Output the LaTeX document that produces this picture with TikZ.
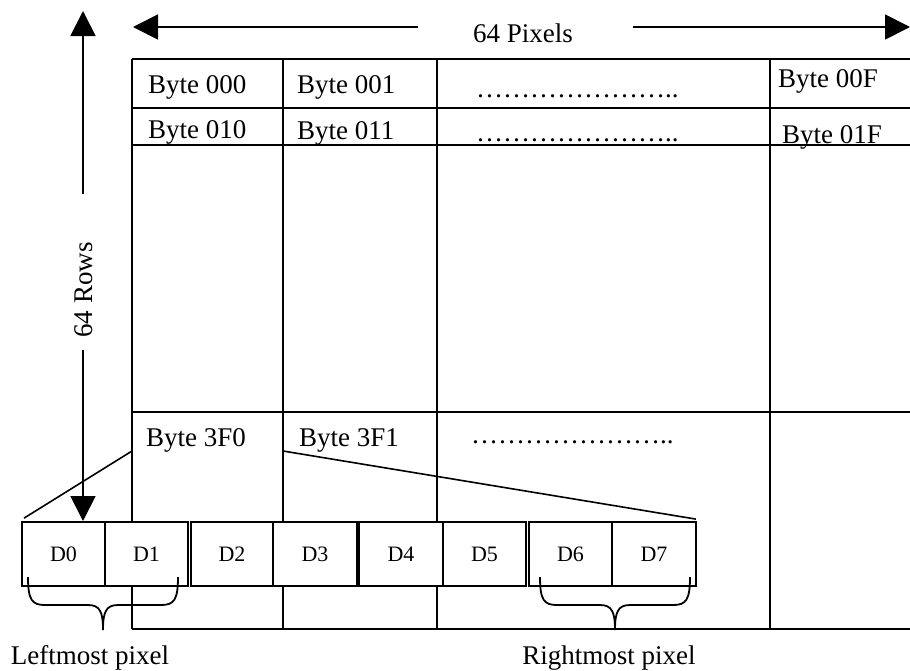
\documentclass[tikz,border=0pt]{standalone}
\usepackage{fontspec}
\setmainfont{Liberation Serif}
\usetikzlibrary{arrows.meta}
\newcommand{\el}{\char"2026\relax}
\newcommand{\dotrow}{\el\el\el\el\el\el\el..}
\begin{document}
\begin{tikzpicture}[x=1pt,y=-1pt,
  grid/.style={line width=1.8pt},
  lbl/.style={font=\fontsize{27}{31}\selectfont, inner sep=0pt, anchor=base west},
  dbox/.style={draw, line width=1.8pt, fill=white, minimum width=83pt, minimum height=64pt, inner sep=0pt, font=\fontsize{22}{26}\selectfont},
  bigarrow/.style={line width=1.8pt, -{Triangle[width=25pt,length=25pt]}},
  link/.style={line width=1.6pt},
  bracepath/.style={line width=1.8pt}]
\useasboundingbox (0,0) rectangle (910,670);
% grid
\draw[grid] (132,59) -- (912,59);
\draw[grid] (132,108) -- (912,108);
\draw[grid] (132,145) -- (912,145);
\draw[grid] (132,412) -- (912,412);
\draw[grid] (132,629) -- (912,629);
\draw[grid] (132,59) -- (132,629);
\draw[grid] (283,59) -- (283,629);
\draw[grid] (437,59) -- (437,629);
\draw[grid] (770,59) -- (770,629);
% cell texts
\node[lbl] (b000) at (148,93) {Byte 000};
\node[lbl] (b001) at (297,93) {Byte 001};
\node[lbl] (d1) at (476,97) {\dotrow};
\node[lbl] (b00F) at (778,87) {Byte 00F};
\node[lbl] (b010) at (148,138) {Byte 010};
\node[lbl] (b011) at (297,139) {Byte 011};
\node[lbl] (d2) at (476,141) {\dotrow};
\node[lbl] (b01F) at (782,143) {Byte 01F};
\node[lbl] (b3F0) at (146,446) {Byte 3F0};
\node[lbl] (b3F1) at (299,446) {Byte 3F1};
\node[lbl] (d3) at (471,443) {\dotrow};
% arrows
\node[font=\fontsize{27}{31}\selectfont, inner sep=0pt, anchor=base] (pix) at (523,42) {64 Pixels};
\coordinate (hl1) at (418,27);
\coordinate (hl2) at (133,27);
\coordinate (hr1) at (633,27);
\coordinate (hr2) at (910,27);
\draw[bigarrow] (hl1) -- (hl2);
\draw[bigarrow] (hr1) -- (hr2);
\node[font=\fontsize{27}{31}\selectfont, inner sep=0pt, rotate=90] (rows) at (84,290) {64 Rows};
\coordinate (vu1) at (83,194);
\coordinate (vu2) at (83,11);
\coordinate (vd1) at (83,350);
\coordinate (vd2) at (83,521);
% D boxes
\node[dbox, minimum width=83pt] (D0) at (63.5,554) {D0};
\node[dbox, minimum width=83pt] (D1) at (146.5,554) {D1};
\node[dbox, minimum width=82pt] (D2) at (232,554) {D2};
\node[dbox, minimum width=84pt] (D3) at (315,554) {D3};
\node[dbox, minimum width=84pt] (D4) at (401,554) {D4};
\node[dbox, minimum width=83pt] (D5) at (484.5,554) {D5};
\node[dbox, minimum width=83pt] (D6) at (570.5,554) {D6};
\node[dbox, minimum width=84pt] (D7) at (654,554) {D7};
\draw[bigarrow] (vu1) -- (vu2);
\draw[bigarrow] (vd1) -- (vd2);
% links
\coordinate (c3F0) at (132,451);
\coordinate (c3F1) at (283,451);
\draw[link] (c3F0) -- ([xshift=3pt,yshift=3pt]D0.north west);
\draw[link] (c3F1) -- ([xshift=-1pt,yshift=2pt]D7.north east);
% braces
\draw[bracepath] (28,577) .. controls (28,600) and (32,605) .. (45,605) -- (88,605) .. controls (100,605) and (103,612) .. (103,630) .. controls (103,612) and (106,605) .. (118,605) -- (161,605) .. controls (174,605) and (178,600) .. (178,577);
\draw[bracepath] (540,577) .. controls (540,600) and (544,605) .. (557,605) -- (600,605) .. controls (612,605) and (615,612) .. (615,630) .. controls (615,612) and (618,605) .. (630,605) -- (673,605) .. controls (686,605) and (690,600) .. (690,577);
\node[font=\fontsize{27}{31}\selectfont, inner sep=0pt, anchor=base] (left) at (90,664) {Leftmost pixel};
\node[font=\fontsize{27}{31}\selectfont, inner sep=0pt, anchor=base] (right) at (609,664) {Rightmost pixel};
\end{tikzpicture}
\end{document}
